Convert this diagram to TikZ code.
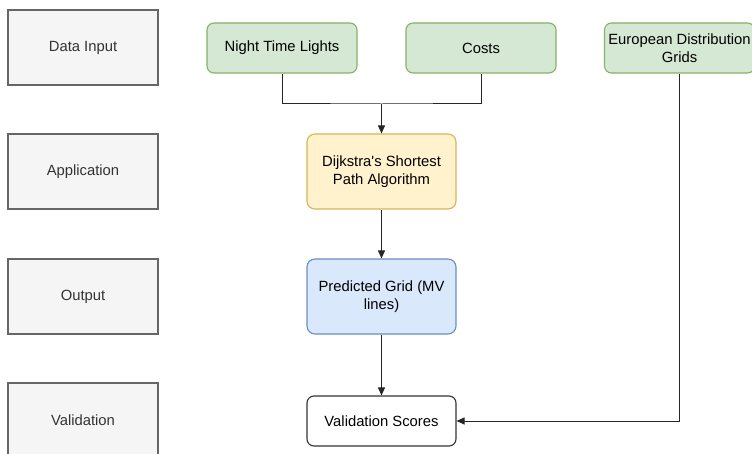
\documentclass[tikz,border=0pt]{standalone}
\usepackage{fontspec}
\setmainfont{Liberation Sans}
\usetikzlibrary{arrows.meta}
\definecolor{grayfill}{HTML}{F5F5F5}
\definecolor{graydraw}{HTML}{666666}
\definecolor{graytext}{HTML}{333333}
\definecolor{greenfill}{HTML}{D5E8D4}
\definecolor{greendraw}{HTML}{82B366}
\definecolor{yellowfill}{HTML}{FFF2CC}
\definecolor{yellowdraw}{HTML}{D6B656}
\definecolor{bluefill}{HTML}{DAE8FC}
\definecolor{bluedraw}{HTML}{6C8EBF}
\tikzset{
  base/.style={draw, line width=1.1pt, font=\fontsize{14.8}{18}\selectfont, align=center, inner sep=2pt},
  stagebox/.style={base, fill=grayfill, draw=graydraw, text=graytext, minimum width=150pt, minimum height=75pt},
  inbox/.style={base, rounded corners=7pt, fill=greenfill, draw=greendraw, minimum width=150pt, minimum height=50pt},
  appbox/.style={base, rounded corners=8pt, fill=yellowfill, draw=yellowdraw, minimum width=149pt, minimum height=75pt},
  outbox/.style={base, rounded corners=8pt, fill=bluefill, draw=bluedraw, minimum width=149pt, minimum height=75pt},
  valbox/.style={base, rounded corners=7pt, fill=white, draw=black!80, minimum width=149pt, minimum height=50pt},
  conn/.style={line width=1pt, draw=black!85},
  arr/.style={conn, -{Triangle[length=8pt,width=7pt]}}
}
\begin{document}
\begin{tikzpicture}[x=1pt,y=-1pt]
\useasboundingbox (0,0) rectangle (752,454);
\clip (0,0) rectangle (752,454);
\node[stagebox] (s1) at (83,47.5) {Data Input};
\node[stagebox] (s2) at (83,171.5) {Application};
\node[stagebox] (s3) at (83,296.5) {Output};
\node[stagebox] (s4) at (83,420.5) {Validation};
\node[inbox] (ntl) at (282,48) {Night Time Lights};
\node[inbox] (cost) at (481,48) {Costs};
\node[inbox] (eur) at (679.5,48) {European Distribution\\Grids};
\node[appbox] (dij) at (381.5,171.5) {Dijkstra\textquotesingle s Shortest\\Path Algorithm};
\node[outbox] (pred) at (381.5,296.5) {Predicted Grid (MV\\lines)};
\node[valbox] (val) at (381.5,421) {Validation Scores};
\coordinate (j) at (381.5,104);
\draw[conn] (ntl.south) |- (j) -| (cost.south);
\draw[arr] (j) -- (dij.north);
\draw[arr] (dij) -- (pred);
\draw[arr] (pred) -- (val);
\draw[arr] (eur.south) |- (val.east);
\end{tikzpicture}
\end{document}
